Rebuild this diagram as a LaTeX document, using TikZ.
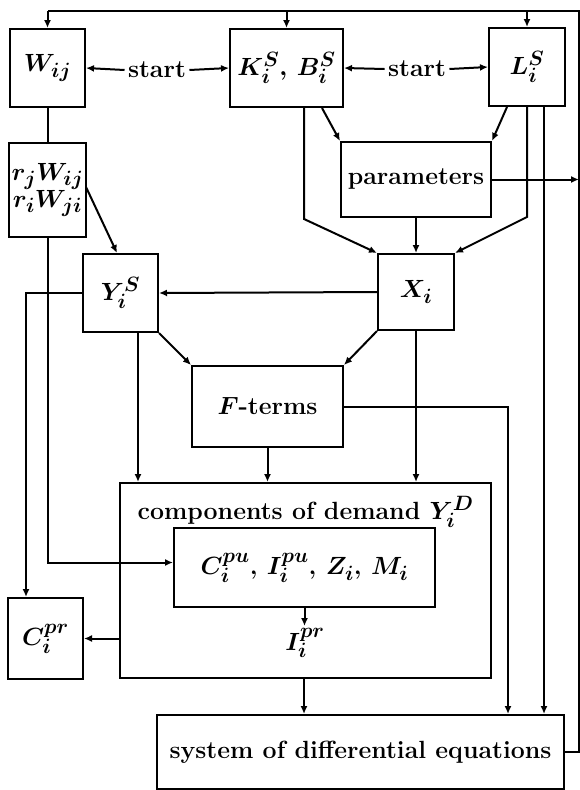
\documentclass[tikz,border=0pt]{standalone}
\usetikzlibrary{arrows.meta,calc}
\begin{document}
\begin{tikzpicture}[x=1pt,y=-1pt,
  font=\fontsize{24.88}{29}\selectfont\bfseries\boldmath,
  box/.style={draw, line width=2pt, inner sep=0pt, align=center},
  conn/.style={line width=2pt, -{Latex[length=8pt,width=7pt]}},
  plain/.style={line width=2pt}]
\useasboundingbox (0,0) rectangle (580,790);
% boxes
\node[box, minimum width=75pt, minimum height=78pt] (W) at (47.5,68) {$W_{ij}$};
\node[box, minimum width=113pt, minimum height=78pt] (KB) at (286.5,68) {$K_i^S,\,B_i^S$};
\node[box, minimum width=76pt, minimum height=78pt] (L) at (527,67) {$L_i^S$};
\node[box, minimum width=77pt, minimum height=94pt] (R) at (47.5,190) {$r_jW_{ij}$\\[-2pt]$r_iW_{ji}$};
\node[box, minimum width=150pt, minimum height=75pt] (P) at (416,179.5) {parameters};
\node[box, minimum width=75pt, minimum height=78pt] (Y) at (120.5,293) {$Y_i^S$};
\node[box, minimum width=76pt, minimum height=76pt] (X) at (416,292) {$X_i$};
\node[box, minimum width=151pt, minimum height=81pt] (F) at (267.5,406.5) {$F$-terms};
\node[box, minimum width=371pt, minimum height=195pt] (Comp) at (305.5,580.5) {};
\node (CompT) at (305.5,512) {components of demand $Y_i^D$};
\node[box, minimum width=261pt, minimum height=79pt] (Inner) at (304.5,567.5) {$C_i^{pu}$, $I_i^{pu}$, $Z_i$, $M_i$};
\node (Ipr) at (305,643) {$I_i^{pr}$};
\node[box, minimum width=75pt, minimum height=81pt] (Cpr) at (45.5,638.5) {$C_i^{pr}$};
\node[box, minimum width=407pt, minimum height=74pt] (Sys) at (360.5,752) {system of differential equations};
% start labels
\node (S1) at (157,70) {start};
\node (S2) at (417,69) {start};
\draw[conn] (S1.west) -- (W.east);
\draw[conn] (S1.east) -- (KB.west);
\draw[conn] (S2.west) -- (KB.east);
\draw[conn] (S2.east) -- (L.west);
% feedback loop
\coordinate (fbB) at (579,752);
\coordinate (fbT) at (579,11);
\coordinate (fbW) at (47.5,11);
\coordinate (fbK) at (286.5,11);
\coordinate (fbL) at (527,11);
\draw[plain] (Sys.east) -- (fbB) -- (fbT) -- (fbW);
\draw[conn] (fbW) -- (W.north);
\draw[conn] (fbK) -- (KB.north);
\draw[conn] (fbL) -- (L.north);
% W to R
\draw[plain] (W.south) -- (R.north);
% R to Y
\coordinate (Rout) at (86,187);
\coordinate (Yin) at ($(Y.north west)+(35,0)$);
\draw[conn] (Rout) -- (Yin);
% R down to Inner
\coordinate (InnerIn) at ($(Inner.west)+(0,-5)$);
\draw[conn] (R.south) |- (InnerIn);
% Y to Cpr
\coordinate (CprIn) at ($(Cpr.north west)+(19,0)$);
\draw[conn] (Y.west) -| (CprIn);
% X to Y
\draw[conn] (X.west) -- (Y.east);
% KB, L to parameters
\coordinate (KBa) at ($(KB.south west)+(93,0)$);
\coordinate (La) at ($(L.south west)+(19,0)$);
\draw[conn] (KBa) -- (P.north west);
\draw[conn] (La) -- (P.north east);
% KB, L to X
\coordinate (KBb) at ($(KB.south west)+(75,0)$);
\coordinate (KBbend) at ($(KBb)+(0,111)$);
\draw[conn] (KBb) -- (KBbend) -- (X.north west);
\coordinate (Lbend) at ($(L.south)+(0,110)$);
\draw[conn] (L.south) -- (Lbend) -- (X.north east);
% parameters
\draw[conn] (P.south) -- (X.north);
\coordinate (Pout) at (579,179.5);
\draw[conn] (P.east) -- (Pout);
% L to system
\coordinate (Lc) at ($(L.south west)+(56,0)$);
\draw[conn] (Lc) -- (Lc |- Sys.north);
% F to system
\coordinate (Fbend) at (508,406.5);
\draw[conn] (F.east) -- (Fbend) -- (Fbend |- Sys.north);
% X to components and F
\draw[conn] (X.south) -- (X.south |- Comp.north);
\draw[conn] (X.south west) -- (F.north east);
\draw[conn] (Y.south east) -- (F.north west);
\coordinate (Yb) at ($(Y.south west)+(56,0)$);
\draw[conn] (Yb) -- (Yb |- Comp.north);
\draw[conn] (F.south) -- (Comp.north -| F.south);
% inside components
\draw[conn] (Inner.south) -- ($(Inner.south)+(0,18)$);
\draw[conn] (Comp.west |- Cpr.east) -- (Cpr.east);
\coordinate (Compb) at ($(Comp.south)+(-1.5,0)$);
\draw[conn] (Compb) -- (Compb |- Sys.north);
\end{tikzpicture}
\end{document}
